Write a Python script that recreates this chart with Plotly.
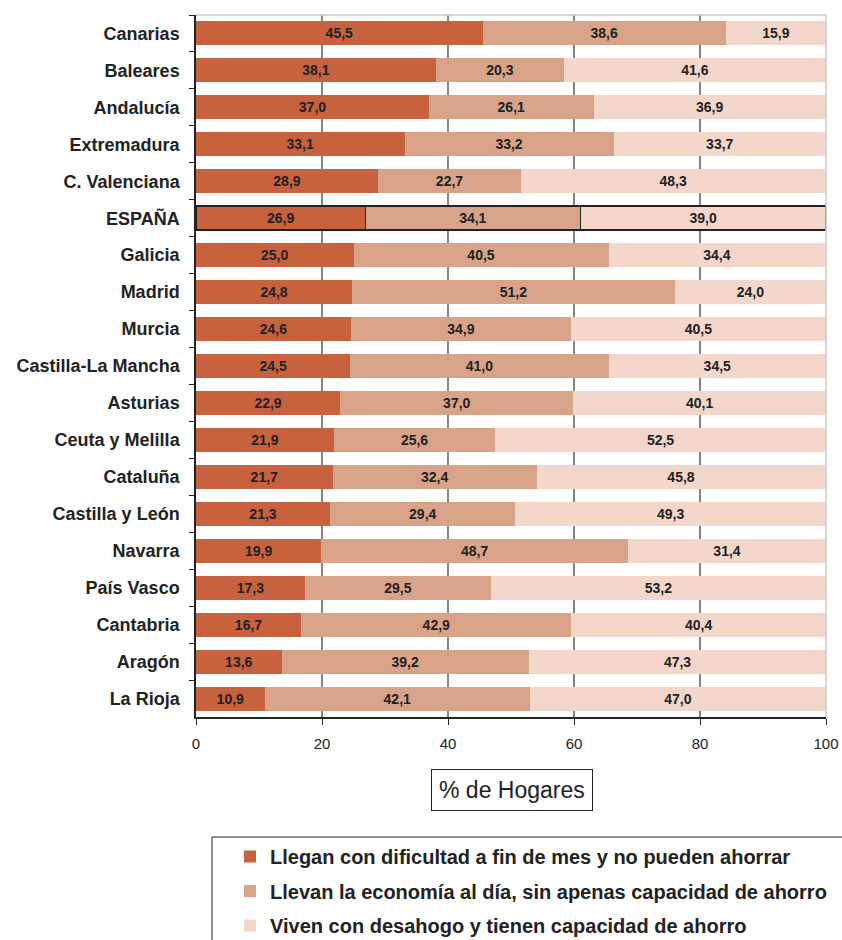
import plotly.graph_objects as go

regions = ["Canarias", "Baleares", "Andalucía", "Extremadura", "C. Valenciana", "ESPAÑA",
           "Galicia", "Madrid", "Murcia", "Castilla-La Mancha", "Asturias", "Ceuta y Melilla",
           "Cataluña", "Castilla y León", "Navarra", "País Vasco", "Cantabria", "Aragón", "La Rioja"]
dificultad = [45.5, 38.1, 37.0, 33.1, 28.9, 26.9, 25.0, 24.8, 24.6, 24.5, 22.9, 21.9, 21.7, 21.3, 19.9, 17.3, 16.7, 13.6, 10.9]
al_dia = [38.6, 20.3, 26.1, 33.2, 22.7, 34.1, 40.5, 51.2, 34.9, 41.0, 37.0, 25.6, 32.4, 29.4, 48.7, 29.5, 42.9, 39.2, 42.1]
desahogo = [15.9, 41.6, 36.9, 33.7, 48.3, 39.0, 34.4, 24.0, 40.5, 34.5, 40.1, 52.5, 45.8, 49.3, 31.4, 53.2, 40.4, 47.3, 47.0]

series_names = ["Llegan con dificultad a fin de mes y no pueden ahorrar",
                "Llevan la economía al día, sin apenas capacidad de ahorro",
                "Viven con desahogo y tienen capacidad de ahorro"]
colors = ["#C8613D", "#D9A38A", "#F3D7CB"]
x_ticks = [0, 20, 40, 60, 80, 100]

FONT = "Arial, 'Liberation Sans', sans-serif"
line_w = [1.5 if r == "ESPAÑA" else 0 for r in regions]

W, H = 842, 940
L, T, PW, PH = 196, 15, 630, 702
R = W - L - PW
B = H - T - PH


def px_x(p):
    return (p - L) / PW


def px_y(p):
    return (T + PH - p) / PH


fig = go.Figure()
for i, (name, vals) in enumerate(zip(series_names, [dificultad, al_dia, desahogo])):
    fig.add_trace(go.Bar(
        y=regions, x=vals, orientation="h", name=name,
        legendgroup=f"g{i}",
        marker=dict(color=colors[i], line=dict(color="#222222", width=line_w)),
        texttemplate="%{x:.1f}", textposition="inside", insidetextanchor="middle",
        textangle=0, constraintext="none",
        textfont=dict(family=FONT, size=14, color="#222222", weight="bold"),
        hoverinfo="skip",
    ))

for v in x_ticks[1:-1]:
    fig.add_shape(type="line", xref="x", yref="paper", x0=v, x1=v, y0=0, y1=1,
                  line=dict(color="#333333", width=1.2), layer="below")
fig.add_shape(type="line", xref="paper", yref="paper", x0=0, x1=1, y0=1, y1=1,
              line=dict(color="#C8C8C8", width=1.5))
fig.add_shape(type="line", xref="paper", yref="paper", x0=1, x1=1, y0=0, y1=1,
              line=dict(color="#C8C8C8", width=1.5))

# legend box
fig.add_shape(type="rect", xref="paper", yref="paper",
              x0=px_x(212), x1=px_x(870), y0=px_y(837), y1=px_y(970),
              line=dict(color="#222222", width=1), fillcolor="rgba(0,0,0,0)")

fig.add_annotation(text="% de Hogares", xref="paper", yref="paper",
                   x=px_x(511.5), y=px_y(790),
                   xanchor="center", yanchor="middle", showarrow=False,
                   font=dict(family=FONT, size=23, color="#222222"),
                   bordercolor="#222222", borderwidth=1, borderpad=7)

fig.update_layout(
    width=W, height=H,
    barmode="stack", bargap=0.35,
    separators=",.",
    plot_bgcolor="white", paper_bgcolor="white",
    margin=dict(l=L, r=R, t=T, b=B, autoexpand=False),
    font=dict(family=FONT, color="#222222"),
    showlegend=True,
    legend=dict(x=px_x(230), y=px_y(837), xanchor="left", yanchor="top",
                font=dict(family=FONT, size=20, color="#222222", weight="bold"),
                tracegroupgap=5.5, bgcolor="rgba(0,0,0,0)", borderwidth=0),
    xaxis=dict(range=[0, 100], tickvals=x_ticks, showgrid=False, zeroline=False,
               showline=True, linecolor="#222222", linewidth=1.5,
               ticks="outside", ticklen=6, tickcolor="#222222", ticklabelstandoff=6,
               ticklabeloverflow="allow",
               tickfont=dict(family=FONT, size=15, color="#222222")),
    yaxis=dict(categoryorder="array", categoryarray=regions, autorange="reversed",
               showgrid=False, zeroline=False, showline=True, linecolor="#222222", linewidth=1.5,
               ticks="outside", ticklen=5, tickcolor="#222222", tickson="boundaries",
               ticklabelstandoff=11,
               tickfont=dict(family=FONT, size=18, color="#222222", weight="bold")),
)

fig.write_html("out.html", config={"displayModeBar": False},
               post_script="document.body.style.margin='0';document.body.style.overflow='hidden';")
